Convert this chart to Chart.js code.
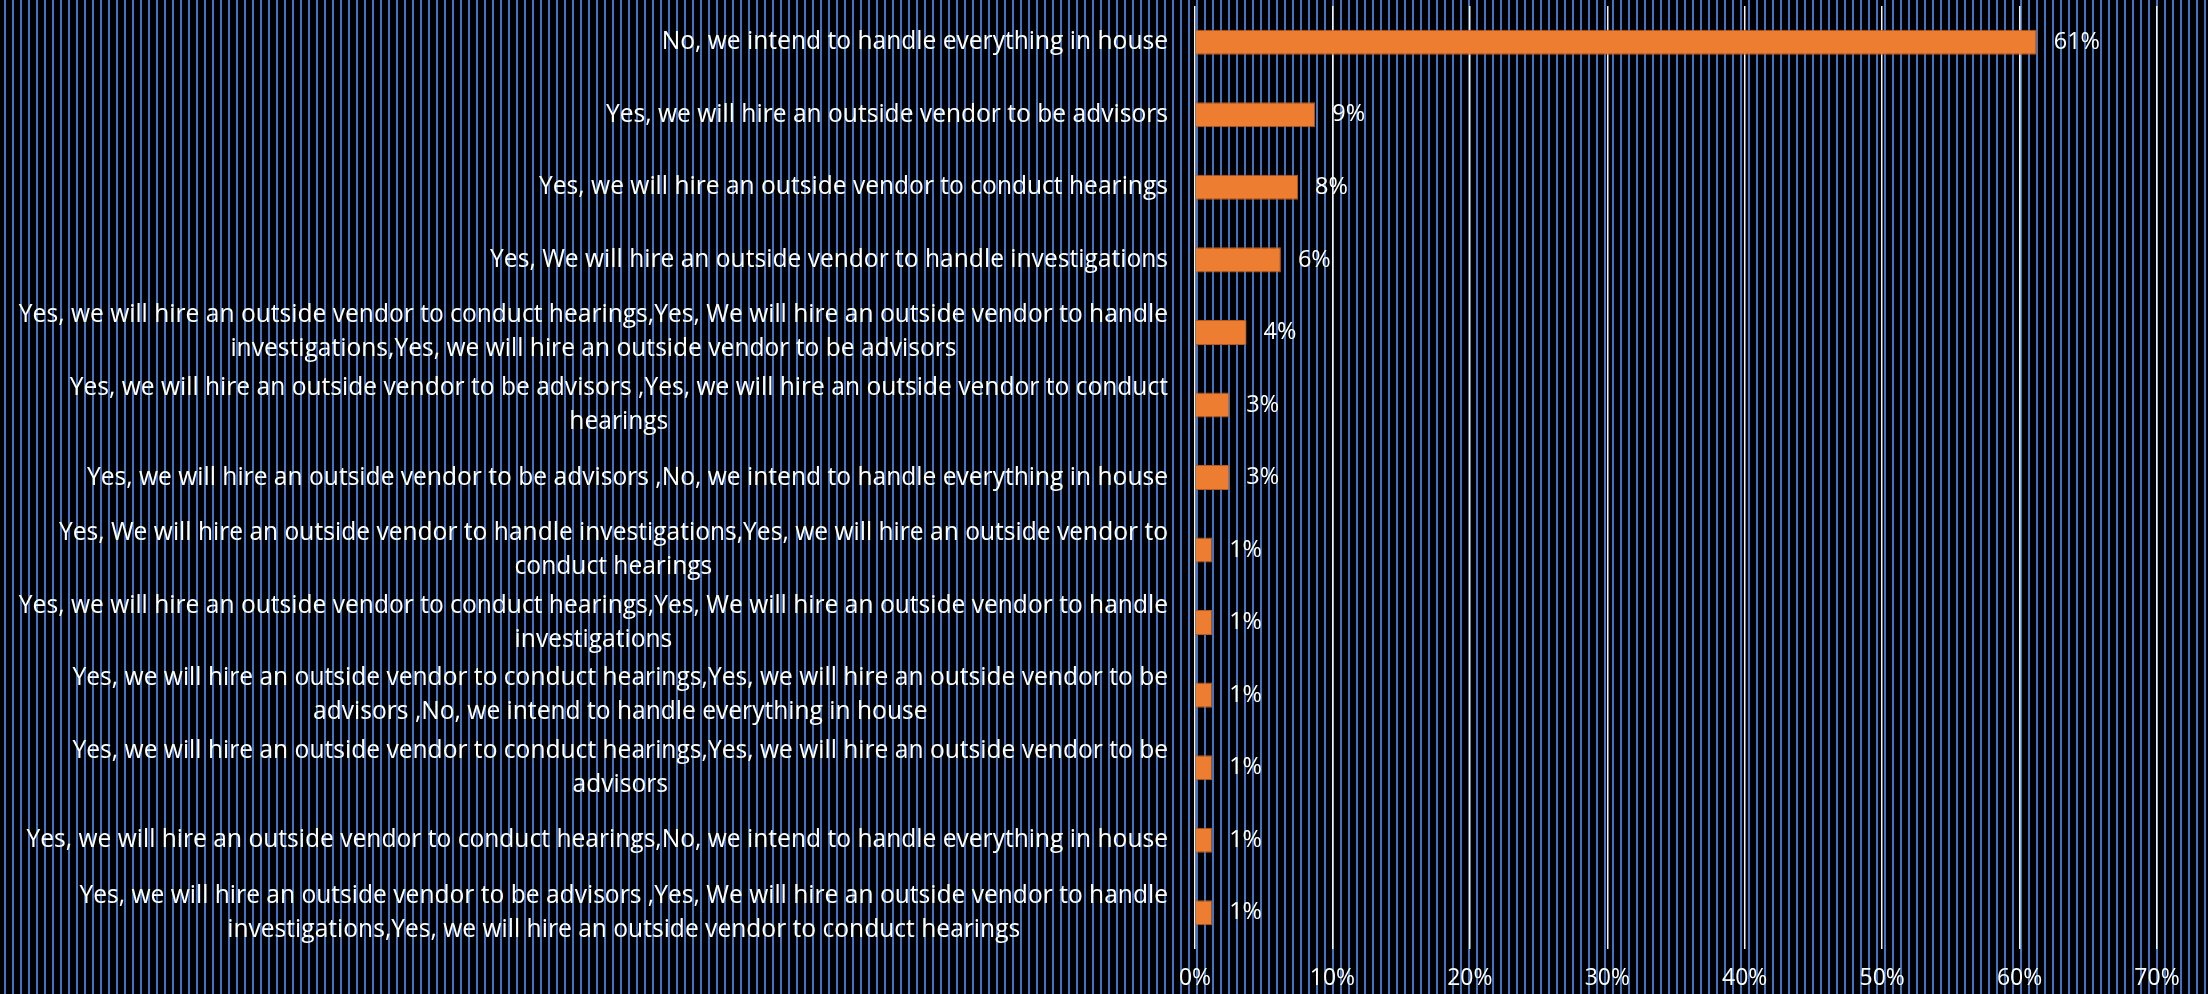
<!DOCTYPE html>
<html>
<head>
<meta charset="utf-8">
<script src="https://cdn.jsdelivr.net/npm/chart.js@4.4.1/dist/chart.umd.min.js"></script>
<style>
  html, body { margin: 0; padding: 0; }
  body {
    width: 2208px;
    height: 994px;
    overflow: hidden;
    background: #000 repeating-linear-gradient(to right, transparent 0 4px, #4472c4 4px 6px, transparent 6px 8px);
  }
</style>
</head>
<body>
<canvas id="chart" width="2208" height="994"></canvas>
<script>
// survey answers, one entry per bar (lines as they wrap in the original)
const categories = [
  ['No, we intend to handle everything in house'],
  ['Yes, we will hire an outside vendor to be advisors'],
  ['Yes, we will hire an outside vendor to conduct hearings'],
  ['Yes, We will hire an outside vendor to handle investigations'],
  ['Yes, we will hire an outside vendor to conduct hearings,Yes, We will hire an outside vendor to handle',
   'investigations,Yes, we will hire an outside vendor to be advisors'],
  ['Yes, we will hire an outside vendor to be advisors ,Yes, we will hire an outside vendor to conduct',
   'hearings'],
  ['Yes, we will hire an outside vendor to be advisors ,No, we intend to handle everything in house'],
  ['Yes, We will hire an outside vendor to handle investigations,Yes, we will hire an outside vendor to',
   'conduct hearings'],
  ['Yes, we will hire an outside vendor to conduct hearings,Yes, We will hire an outside vendor to handle',
   'investigations'],
  ['Yes, we will hire an outside vendor to conduct hearings,Yes, we will hire an outside vendor to be',
   'advisors ,No, we intend to handle everything in house'],
  ['Yes, we will hire an outside vendor to conduct hearings,Yes, we will hire an outside vendor to be',
   'advisors'],
  ['Yes, we will hire an outside vendor to conduct hearings,No, we intend to handle everything in house'],
  ['Yes, we will hire an outside vendor to be advisors ,Yes, We will hire an outside vendor to handle',
   'investigations,Yes, we will hire an outside vendor to conduct hearings']
];

// share of respondents, percent
const shares = [61.25, 8.75, 7.5, 6.25, 3.75, 2.5, 2.5, 1.25, 1.25, 1.25, 1.25, 1.25, 1.25];

const xTicks = [0, 10, 20, 30, 40, 50, 60, 70];

const FONT = '"Open Sans", "Liberation Sans", sans-serif';

// category names drawn on the left: block right-aligned, lines centred
const categoryLabels = {
  id: 'categoryLabels',
  afterDraw(chart) {
    const ctx = chart.ctx;
    const yScale = chart.scales.y;
    const right = chart.chartArea.left - 27;
    ctx.save();
    ctx.font = '24.6px ' + FONT;
    ctx.fillStyle = '#ffffff';
    ctx.textAlign = 'center';
    ctx.textBaseline = 'middle';
    categories.forEach((lines, i) => {
      const yc = yScale.getPixelForValue(i);
      const w = Math.max(...lines.map(l => ctx.measureText(l).width));
      const cx = right - w / 2;
      lines.forEach((line, j) => {
        ctx.fillText(line, cx, yc + (j - (lines.length - 1) / 2) * 34);
      });
    });
    ctx.restore();
  }
};

// rounded percentage at the end of each bar
const valueLabels = {
  id: 'valueLabels',
  afterDatasetsDraw(chart) {
    const ctx = chart.ctx;
    const meta = chart.getDatasetMeta(0);
    ctx.save();
    ctx.font = '23.5px ' + FONT;
    ctx.fillStyle = '#ffffff';
    ctx.textAlign = 'left';
    ctx.textBaseline = 'middle';
    meta.data.forEach((bar, i) => {
      ctx.fillText(Math.round(shares[i]) + '%', bar.x + 17, bar.y);
    });
    ctx.restore();
  }
};

function draw() {
  const ctx = document.getElementById('chart').getContext('2d');
  new Chart(ctx, {
    type: 'bar',
    data: {
      labels: categories,
      datasets: [{
        data: shares,
        backgroundColor: '#ED7D31',
        borderColor: '#B85A1E',
        borderWidth: 1,
        barPercentage: 0.345,
        categoryPercentage: 1
      }]
    },
    options: {
      indexAxis: 'y',
      responsive: false,
      animation: false,
      devicePixelRatio: 1,
      layout: { padding: { top: 6, right: 51, bottom: 0, left: 0 } },
      plugins: {
        legend: { display: false },
        tooltip: { enabled: false }
      },
      scales: {
        y: {
          ticks: { display: false },
          grid: { display: false },
          border: { display: false },
          afterFit: (s) => { s.width = 1195; }
        },
        x: {
          min: 0,
          max: 70,
          afterBuildTicks: (s) => { s.ticks = xTicks.map(v => ({ value: v })); },
          ticks: {
            color: '#ffffff',
            font: { family: FONT, size: 23 },
            padding: 16,
            callback: (v) => v + '%'
          },
          grid: { color: '#f2f2f2', lineWidth: 1.5, drawTicks: false },
          border: { display: false },
          afterFit: (s) => { s.height = 45; }
        }
      }
    },
    plugins: [categoryLabels, valueLabels]
  });
}

document.fonts.load('22px "Open Sans"').then(draw, draw);
</script>
</body>
</html>
